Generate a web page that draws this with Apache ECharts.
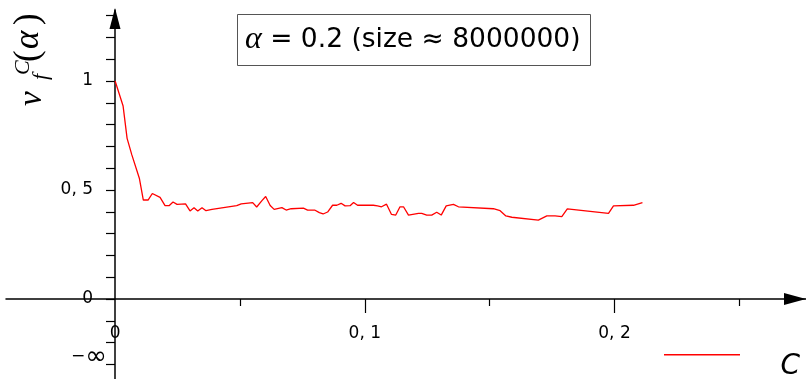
<!DOCTYPE html>
<html>
<head>
<meta charset="utf-8">
<script src="https://cdn.jsdelivr.net/npm/echarts@6/dist/echarts.min.js"></script>
<style>html,body{margin:0;padding:0;background:#fff}#c{width:806px;height:379px}</style>
</head>
<body>
<div id="c"></div>
<script>
// ---- data ----
const cValues = [0, 0.0032, 0.0048, 0.0067, 0.0097, 0.0113, 0.0132, 0.0149, 0.0180, 0.0200,
  0.0216, 0.0232, 0.0248, 0.0282, 0.0300, 0.0316, 0.0331, 0.0348, 0.0364, 0.0388,
  0.0434, 0.0487, 0.0505, 0.0551, 0.0567, 0.0588, 0.0603, 0.0621, 0.0637, 0.0668,
  0.0685, 0.0705, 0.0754, 0.0771, 0.0799, 0.0818, 0.0833, 0.0851, 0.0871, 0.0888,
  0.0905, 0.0921, 0.0941, 0.0955, 0.0971, 0.1034, 0.1051, 0.1067, 0.1087, 0.1107,
  0.1124, 0.1141, 0.1155, 0.1175, 0.1215, 0.1228, 0.1248, 0.1268, 0.1288, 0.1306,
  0.1326, 0.1355, 0.1375, 0.1515, 0.1542, 0.1565, 0.1589, 0.1695, 0.1729, 0.1762,
  0.1789, 0.1811, 0.1976, 0.1996, 0.2076, 0.2112];
const nuValues = [1.000, 0.885, 0.737, 0.661, 0.554, 0.454, 0.454, 0.484, 0.466, 0.428,
  0.428, 0.445, 0.434, 0.436, 0.404, 0.419, 0.404, 0.419, 0.405, 0.411,
  0.419, 0.428, 0.436, 0.442, 0.422, 0.451, 0.470, 0.429, 0.411, 0.419,
  0.408, 0.414, 0.417, 0.408, 0.408, 0.396, 0.390, 0.399, 0.430, 0.430,
  0.439, 0.427, 0.428, 0.443, 0.430, 0.430, 0.427, 0.423, 0.435, 0.388,
  0.385, 0.423, 0.423, 0.385, 0.393, 0.393, 0.385, 0.385, 0.398, 0.385,
  0.427, 0.434, 0.423, 0.414, 0.405, 0.381, 0.375, 0.362, 0.381, 0.381,
  0.378, 0.413, 0.393, 0.427, 0.430, 0.442];

const yTickValues = [-0.3, -0.2, -0.1, 0, 0.1, 0.2, 0.3, 0.4, 0.5, 0.6, 0.7, 0.8, 0.9, 1, 1.1, 1.2, 1.3];
const yLabelValues = [0, 0.5, 1];
const yInfValue = [-0.265];
const xMajorTicks = [0.1, 0.2];
const xMinorTicks = [0.05, 0.15, 0.25];
const xLabelValues = [0, 0.1, 0.2];

const X_MIN = -0.0437, X_MAX = 0.2767;
const Y_MIN = -0.3716, Y_MAX = 1.3257;

// grid geometry (layout only)
const G_LEFT = 6, G_W = 800, G_TOP = 10, G_H = 370;
// offsets that put each axis where the other axis is zero
const X_OFF = -Math.round(G_H * (0 - Y_MIN) / (Y_MAX - Y_MIN));
const Y_OFF = -Math.round(G_W * (0 - X_MIN) / (X_MAX - X_MIN));

function fmt(v) {
  if (Math.abs(v) < 1e-9) return '0';
  if (Math.abs(v - Math.round(v)) < 1e-9) return String(Math.round(v));
  return v.toFixed(1).replace('.', ', ');
}

const FONT = 'DejaVu Sans';
const chart = echarts.init(document.getElementById('c'), null, {renderer: 'canvas'});
const seriesData = cValues.map((c, i) => [c, nuValues[i]]);

chart.setOption({
  animation: false,
  backgroundColor: '#fff',
  title: {
    text: '{a|α} = 0.2 (size ≈ 8000000)',
    left: 237, top: 14,
    padding: [10, 10, 10, 8],
    borderWidth: 1, borderColor: '#555',
    textStyle: {
      fontFamily: FONT, fontSize: 26.5, fontWeight: 'normal', color: '#000',
      rich: { a: { fontFamily: 'Liberation Serif', fontStyle: 'italic', fontSize: 32, color: '#000' } }
    }
  },
  legend: {
    left: 664, top: 354, padding: 0,
    icon: 'rect', itemWidth: 76, itemHeight: 1.5,
    formatter: () => '',
    data: ['series']
  },
  grid: { left: G_LEFT, width: G_W, top: G_TOP, height: G_H, containLabel: false, outerBoundsMode: 'none' },
  xAxis: [{
    type: 'value', min: X_MIN, max: X_MAX, position: 'bottom', offset: X_OFF,
    name: 'C',
    nameLocation: 'end', nameGap: -6,
    nameTextStyle: { fontFamily: 'DejaVu Sans', fontStyle: 'italic', fontSize: 28, color: '#000', align: 'right', verticalAlign: 'top', padding: [54, 0, 0, 0] },
    axisLine: { onZero: false, lineStyle: { color: '#000', width: 1.5 }, symbol: ['none', 'triangle'], symbolSize: [12, 22], symbolOffset: [0, -11] },
    axisTick: { show: true, length: 14, customValues: xMajorTicks, lineStyle: { color: '#000', width: 1.2 } },
    axisLabel: { customValues: xLabelValues, formatter: fmt, margin: 26, fontFamily: FONT, fontSize: 17, color: '#000', hideOverlap: false },
    splitLine: { show: false }
  }, {
    type: 'value', min: X_MIN, max: X_MAX, position: 'bottom', offset: X_OFF,
    axisLine: { onZero: false, show: false },
    axisTick: { show: true, length: 7, customValues: xMinorTicks, lineStyle: { color: '#000', width: 1.2 } },
    axisLabel: { show: false },
    splitLine: { show: false }
  }],
  yAxis: [{
    type: 'value', min: Y_MIN, max: Y_MAX, position: 'left', offset: Y_OFF,
    axisLine: { onZero: false, lineStyle: { color: '#000', width: 1.5 }, symbol: ['none', 'triangle'], symbolSize: [11, 21], symbolOffset: [0, -8.5] },
    axisTick: { show: true, length: 9, customValues: yTickValues, lineStyle: { color: '#000', width: 1.2 } },
    axisLabel: { customValues: yLabelValues, formatter: fmt, margin: 22, fontFamily: FONT, fontSize: 17, color: '#000', hideOverlap: false },
    splitLine: { show: false }
  }, {
    type: 'value', min: Y_MIN, max: Y_MAX, position: 'left', offset: Y_OFF,
    axisLine: { onZero: false, show: false },
    axisTick: { show: false },
    axisLabel: {
      customValues: yInfValue, formatter: () => '{m|−}{i|∞}', margin: 8, color: '#000',
      rich: { m: { fontFamily: FONT, fontSize: 17, color: '#000' }, i: { fontFamily: FONT, fontSize: 26, color: '#000' } }
    },
    splitLine: { show: false }
  }],
  graphic: [{
    type: 'group', x: 32, y: 106, rotation: Math.PI / 2,
    children: [
      { type: 'text', x: 0, y: 0, style: { text: 'ν', font: 'italic 33px "Liberation Serif"', fill: '#000', textAlign: 'left', textVerticalAlign: 'middle' } },
      { type: 'text', x: 31, y: -9, style: { text: 'C', font: 'italic 22px "Liberation Serif"', fill: '#000', textAlign: 'left', textVerticalAlign: 'middle' } },
      { type: 'text', x: 26, y: 9, style: { text: 'f', font: 'italic 22px "Liberation Serif"', fill: '#000', textAlign: 'left', textVerticalAlign: 'middle' } },
      { type: 'text', x: 44, y: -3, style: { text: '(', font: '35px "Liberation Serif"', fill: '#000', textAlign: 'left', textVerticalAlign: 'middle' } },
      { type: 'text', x: 57, y: -3, style: { text: 'α', font: 'italic 35px "Liberation Serif"', fill: '#000', textAlign: 'left', textVerticalAlign: 'middle' } },
      { type: 'text', x: 81, y: -3, style: { text: ')', font: '35px "Liberation Serif"', fill: '#000', textAlign: 'left', textVerticalAlign: 'middle' } }
    ]
  }],
  series: [{
    name: 'series', type: 'line', xAxisIndex: 0, yAxisIndex: 0,
    data: seriesData, showSymbol: false, symbol: 'none',
    color: '#ff0000',
    lineStyle: { color: '#ff0000', width: 1.3 },
    clip: true
  }]
});
</script>
</body>
</html>
